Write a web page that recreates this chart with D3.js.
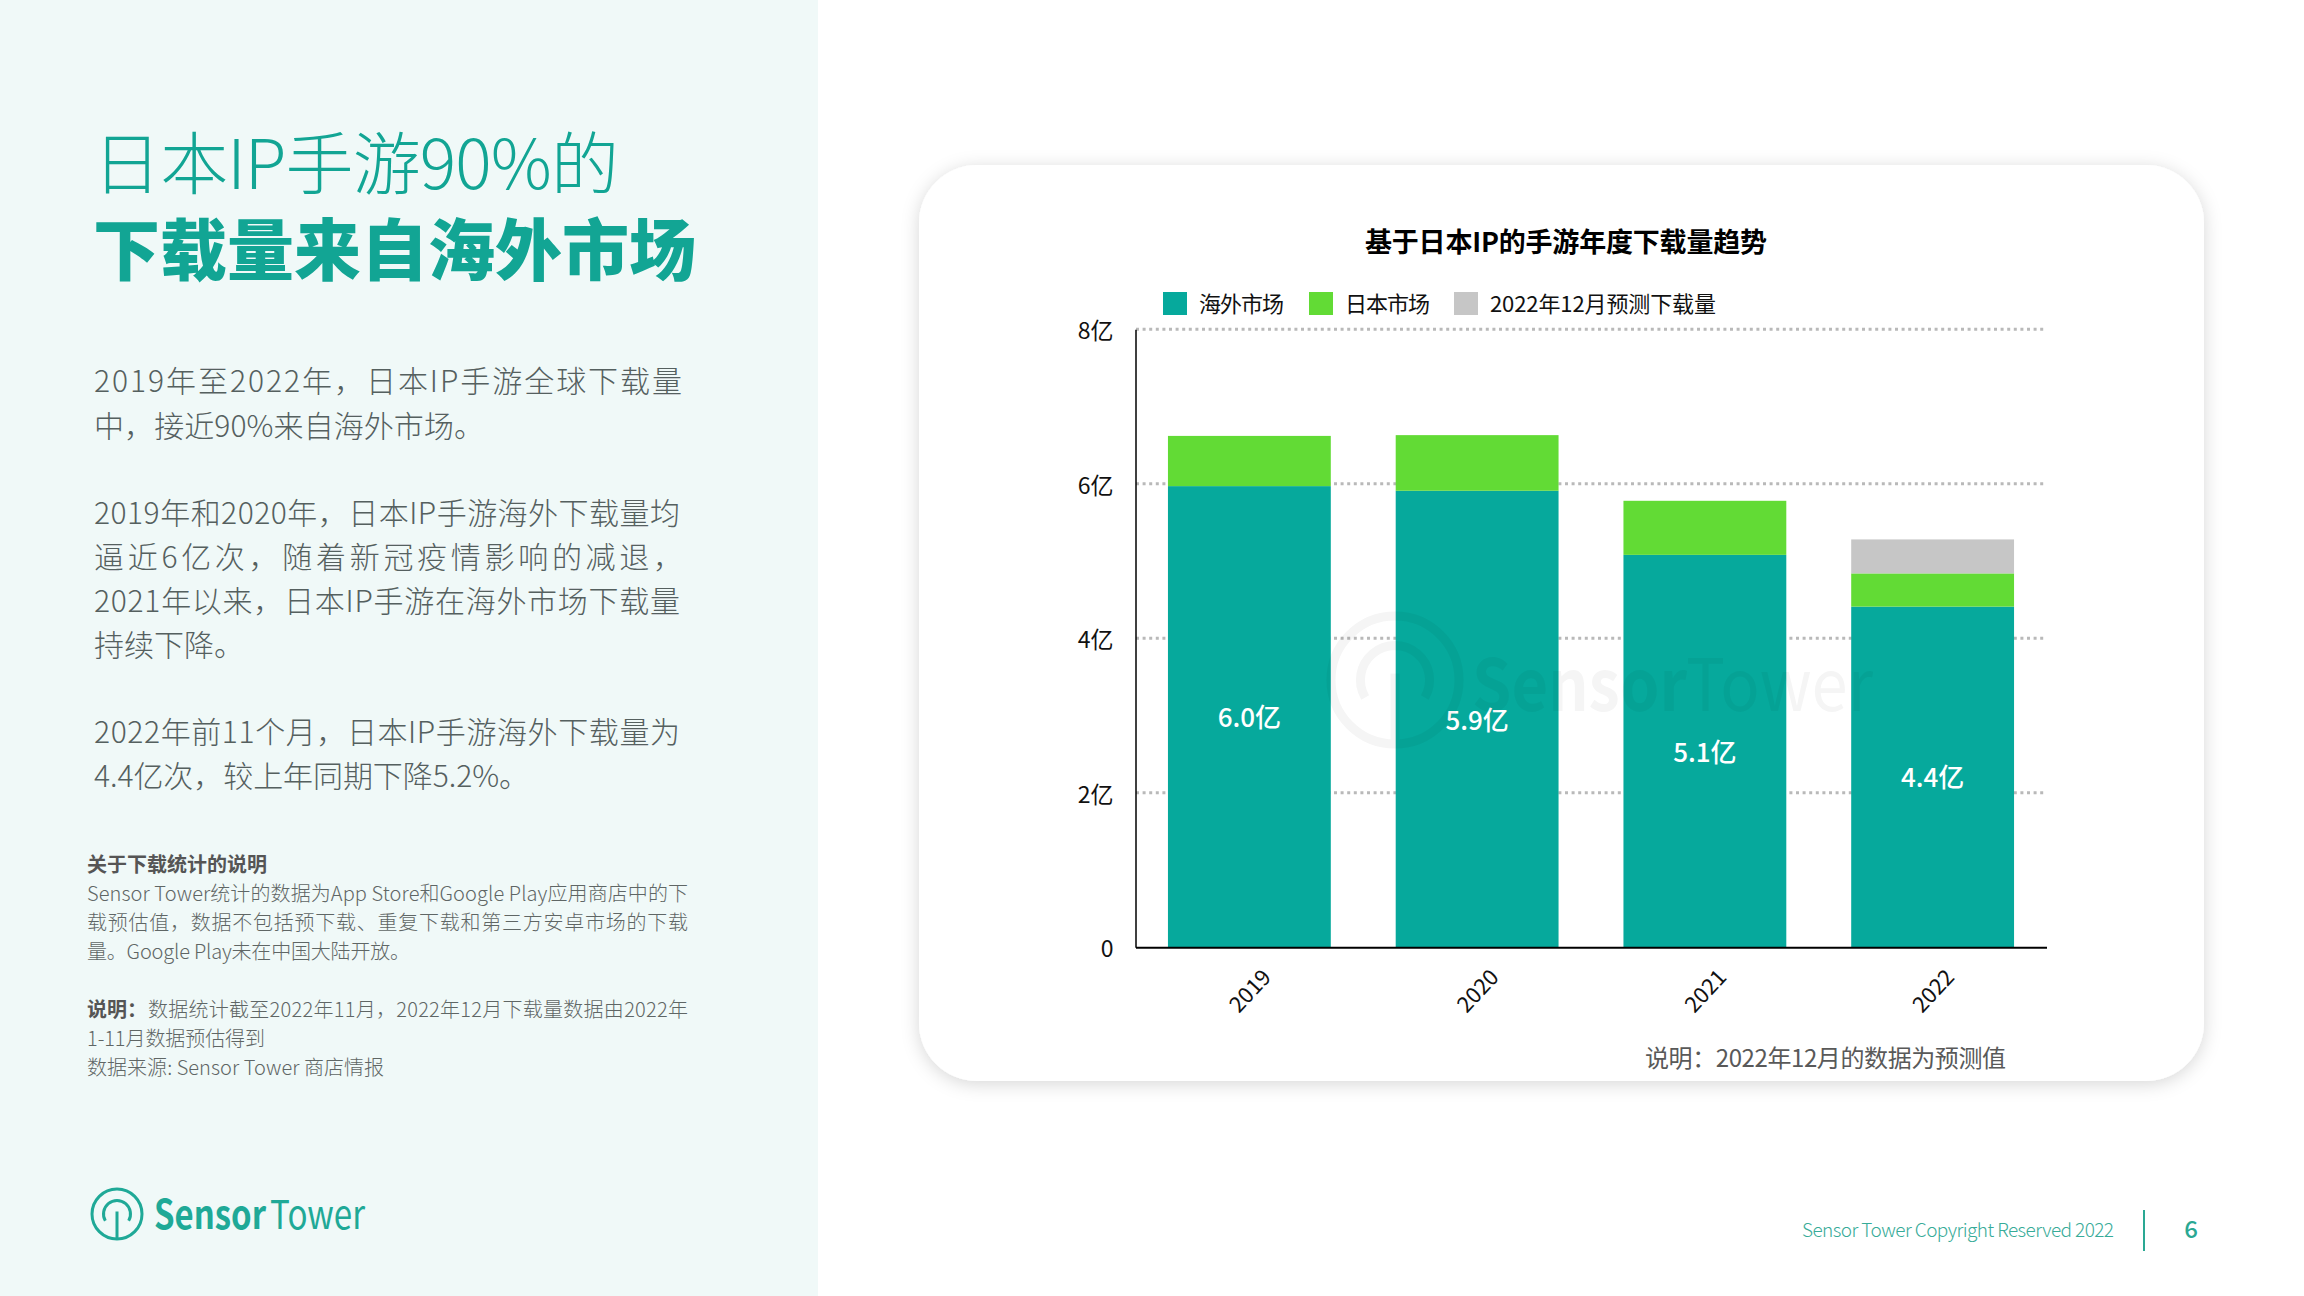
<!DOCTYPE html>
<html>
<head>
<meta charset="utf-8">
<script src="https://cdn.jsdelivr.net/npm/d3@7/dist/d3.min.js"></script>
<style>
  html, body { margin: 0; padding: 0; background: #fff; }
  svg { display: block; }
  text { font-family: "Noto Sans CJK SC", "Noto Sans", sans-serif; }
</style>
</head>
<body>
<div id="chart"></div>
<script>
const years = ["2019", "2020", "2021", "2022"];
const overseas = [5.97, 5.91, 5.08, 4.41];
const japan = [0.65, 0.72, 0.70, 0.43];
const forecast = [0, 0, 0, 0.44];
const valueLabels = ["6.0亿", "5.9亿", "5.1亿", "4.4亿"];
const yTicks = [0, 2, 4, 6, 8];
const seriesNames = ["海外市场", "日本市场", "2022年12月预测下载量"];
const seriesColors = ["#06a99c", "#62db35", "#c6c6c6"];

const TEAL = "#12a594";
const width = 2304, height = 1296;

const svg = d3.select("#chart").append("svg")
  .attr("width", width).attr("height", height);

svg.append("rect").attr("width", 818).attr("height", height).attr("fill", "#f0f9f8");

// text helper, w forces the line width when the original is justified
function put(parent, str, x, y, size, color, opt = {}) {
  const t = parent.append("text")
    .attr("x", x).attr("y", y)
    .attr("font-size", size)
    .attr("fill", color)
    .attr("font-weight", opt.weight || 400)
    .attr("text-anchor", opt.anchor || "start")
    .attr("dominant-baseline", "central")
    .text(str);
  if (opt.w) t.attr("textLength", opt.w).attr("lengthAdjust", opt.adjust || "spacing");
  return t;
}

// left panel
const left = svg.append("g");
put(left, "日本IP手游90%的", 93, 159, 68, TEAL, { weight: 300, w: 526 });
put(left, "下载量来自海外市场", 93, 245, 67, TEAL, { weight: 900, w: 603 });

const bodyLines = [
  ["2019年至2022年，日本IP手游全球下载量", 378.5, 588],
  ["中，接近90%来自海外市场。", 423.5, 390],
  ["2019年和2020年，日本IP手游海外下载量均", 510.5, 586],
  ["逼近6亿次，随着新冠疫情影响的减退，", 554.5, 589],
  ["2021年以来，日本IP手游在海外市场下载量", 598.5, 586],
  ["持续下降。", 642.5, 150],
  ["2022年前11个月，日本IP手游海外下载量为", 730, 586],
  ["4.4亿次，较上年同期下降5.2%。", 774, 435]
];
bodyLines.forEach(d => put(left, d[0], 94, d[1], 30, "#55605f", { weight: 300, w: d[2] }));

const NOTE = "#5f6665";
put(left, "关于下载统计的说明", 87, 863, 20, "#555", { weight: 700, w: 180 });
const noteLines = [
  ["Sensor Tower统计的数据为App Store和Google Play应用商店中的下", 892.5, 601],
  ["载预估值，数据不包括预下载、重复下载和第三方安卓市场的下载", 921.5, 601],
  ["量。Google Play未在中国大陆开放。", 950.5, 323],
  ["1-11月数据预估得到", 1037.5, 178],
  ["数据来源: Sensor Tower 商店情报", 1066.5, 297]
];
noteLines.forEach(d => put(left, d[0], 87, d[1], 20, NOTE, { weight: 300, w: d[2] }));
put(left, "说明：", 87, 1008.5, 20, "#555", { weight: 700 });
put(left, "数据统计截至2022年11月，2022年12月下载量数据由2022年", 148, 1008.5, 20, NOTE, { weight: 300, w: 540 });

// logo mark, also used for the watermark
function logoMark(parent, cx, cy, r, color, sw) {
  const g = parent.append("g").attr("transform", `translate(${cx},${cy})`)
    .attr("fill", "none").attr("stroke", color).attr("stroke-width", sw);
  g.append("circle").attr("r", r);
  const arc = d3.arc().innerRadius(r * 0.54).outerRadius(r * 0.54)
    .startAngle(-2.1).endAngle(2.1);
  g.append("path").attr("d", arc());
  g.append("line").attr("x1", 0).attr("x2", 0).attr("y1", -r * 0.1).attr("y2", r);
  return g;
}

logoMark(left, 117, 1214, 25, "#1fa997", 3);
put(left, "Sensor", 154, 1212, 40, "#1fa997", { weight: 700, w: 112, adjust: "spacingAndGlyphs" });
put(left, "Tower", 270, 1212, 40, "#1fa997", { weight: 400, w: 95, adjust: "spacingAndGlyphs" });

// footer
put(svg, "Sensor Tower Copyright Reserved 2022", 1802, 1228, 19, "#37ab98", { weight: 300, w: 312 });
svg.append("line").attr("x1", 2144).attr("x2", 2144).attr("y1", 1210).attr("y2", 1251)
  .attr("stroke", "#2aa893").attr("stroke-width", 2);
put(svg, "6", 2191, 1227, 24, "#2aa893", { weight: 500, anchor: "middle" });

// card
const defs = svg.append("defs");
const shadow = defs.append("filter").attr("id", "cardShadow")
  .attr("x", "-5%").attr("y", "-5%").attr("width", "110%").attr("height", "115%");
shadow.append("feDropShadow").attr("dx", 0).attr("dy", 3).attr("stdDeviation", 9)
  .attr("flood-color", "#000").attr("flood-opacity", 0.16);
svg.append("rect").attr("x", 919).attr("y", 165).attr("width", 1285).attr("height", 916)
  .attr("rx", 58).attr("fill", "#fff").attr("filter", "url(#cardShadow)");

// chart
const x = d3.scaleBand().domain(years).range([1135.5, 2046.5])
  .paddingInner(0.285).paddingOuter(0.1425);
const y = d3.scaleLinear().domain([0, 8]).range([947.3, 329.3]);

const grid = svg.append("g");
grid.selectAll("line").data(yTicks.filter(d => d > 0)).enter().append("line")
  .attr("x1", 1136).attr("x2", 2044)
  .attr("y1", d => y(d)).attr("y2", d => y(d))
  .attr("stroke", "#b9b9b9").attr("stroke-width", 3).attr("stroke-dasharray", "3 3.6");

const rows = years.map((yr, i) => ({
  year: yr, overseas: overseas[i], japan: japan[i], forecast: forecast[i]
}));
const stacked = d3.stack().keys(["overseas", "japan", "forecast"])(rows);

svg.append("g").selectAll("g").data(stacked).enter().append("g")
  .attr("fill", (d, i) => seriesColors[i])
  .selectAll("rect").data(d => d).enter().append("rect")
  .attr("x", d => x(d.data.year))
  .attr("width", x.bandwidth())
  .attr("y", d => y(d[1]))
  .attr("height", d => y(d[0]) - y(d[1]));

// axes
const yAxis = svg.append("g").attr("transform", "translate(1135.5,0)")
  .call(d3.axisLeft(y).tickValues(yTicks).tickSize(0).tickPadding(22)
    .tickFormat(d => d === 0 ? "0" : d + "亿"));
yAxis.select(".domain").attr("stroke", "#000").attr("stroke-width", 1.5);
yAxis.selectAll("text").attr("font-size", 23).attr("fill", "#111").attr("dy", "0.42em")
  .style("font-family", '"Noto Sans CJK SC"');

const xAxis = svg.append("g").attr("transform", "translate(0,947.3)")
  .call(d3.axisBottom(x).tickSize(0));
xAxis.select(".domain").attr("stroke", "#000").attr("stroke-width", 2);
xAxis.selectAll("text")
  .attr("font-size", 22).attr("fill", "#111")
  .attr("text-anchor", "middle").attr("dominant-baseline", "central")
  .attr("x", 0).attr("y", 0).attr("dy", null)
  .attr("transform", "translate(-1,42) rotate(-47)")
  .style("font-family", '"Noto Sans CJK SC"');

// value labels
const labels = svg.append("g");
years.forEach((yr, i) => {
  put(labels, valueLabels[i], x(yr) + x.bandwidth() / 2, y(overseas[i] / 2) - 1, 26, "#fff",
    { anchor: "middle", weight: 500 });
});

// title, legend, note
put(svg, "基于日本IP的手游年度下载量趋势", 1566, 240, 27, "#000", { weight: 700, anchor: "middle", w: 402 });

const legendX = [1163, 1309, 1454];
const legendLen = [85, 85, 226];
const legend = svg.append("g");
seriesNames.forEach((name, i) => {
  legend.append("rect").attr("x", legendX[i]).attr("y", 292).attr("width", 24).attr("height", 23)
    .attr("fill", seriesColors[i]);
  put(legend, name, legendX[i] + 36, 302, 22, "#111", { w: legendLen[i] });
});

put(svg, "说明：2022年12月的数据为预测值", 1645, 1056.5, 24, "#595959", { w: 361 });

// watermark over the bars
const mark = svg.append("g").attr("opacity", 0.04);
logoMark(mark, 1395, 680, 64, "#000", 9);
put(mark, "Sensor", 1472, 679, 72, "#000", { weight: 700, w: 215, adjust: "spacingAndGlyphs" });
put(mark, "Tower", 1686, 679, 72, "#000", { weight: 400, w: 187, adjust: "spacingAndGlyphs" });
</script>
</body>
</html>
